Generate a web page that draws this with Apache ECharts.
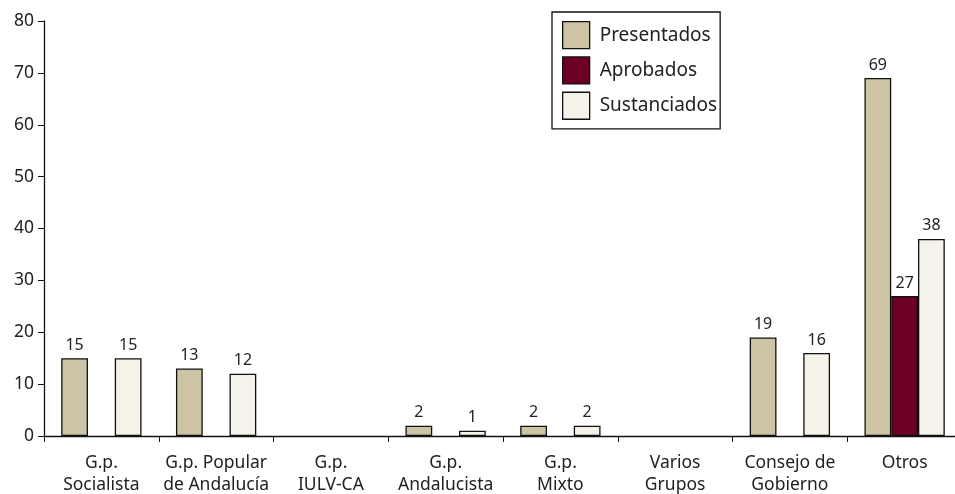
<!DOCTYPE html>
<html><head><meta charset="utf-8">
<script src="https://cdn.jsdelivr.net/npm/echarts@6/dist/echarts.min.js"></script>
<style>html,body{margin:0;padding:0;background:#fff}#c{width:955px;height:494px}</style>
</head><body><div id="c"></div>
<script>
const categories = ['G.p.\nSocialista','G.p. Popular\nde Andalucía','G.p.\nIULV-CA','G.p.\nAndalucista','G.p.\nMixto','Varios\nGrupos','Consejo de\nGobierno','Otros'];
const presentados = [15, 13, 0, 2, 2, 0, 19, 69];
const aprobados = [0, 0, 0, 0, 0, 0, 0, 27];
const sustanciados = [15, 12, 0, 1, 2, 0, 16, 38];
const yTicks = [0, 10, 20, 30, 40, 50, 60, 70, 80];

const FONT = 'Noto Sans';
const toData = a => a.map(v => v === 0 ? '-' : v);
const mk = (name, data, color) => ({
  name, type: 'bar', data: toData(data), barGap: '0%', barCategoryGap: '30%',
  itemStyle: { color, borderColor: '#111', borderWidth: 1.3 },
  label: { show: true, position: 'top', distance: 5, color: '#222', fontFamily: FONT, fontSize: 16 }
});
const chart = echarts.init(document.getElementById('c'));
chart.setOption({
  animation: false,
  textStyle: { fontFamily: FONT },
  grid: { left: 44, right: -7, top: 21, bottom: 58, containLabel: false, outerBoundsMode: 'none' },
  legend: {
    orient: 'vertical', left: 552, top: 12,
    padding: [9, 3, 9, 10], itemGap: 7, itemWidth: 27, itemHeight: 27,
    borderColor: '#111', borderWidth: 1.3,
    icon: 'rect',
    itemStyle: { borderColor: '#111', borderWidth: 1.3 },
    textStyle: { fontFamily: FONT, fontSize: 19, color: '#222', padding: [0, 0, 0, 5] },
    data: ['Presentados', 'Aprobados', 'Sustanciados']
  },
  xAxis: {
    type: 'category', data: categories,
    axisLine: { lineStyle: { color: '#111', width: 1.3 } },
    axisTick: { show: true, length: 6, lineStyle: { color: '#111' } },
    axisLabel: { color: '#222', fontFamily: FONT, fontSize: 17.5, lineHeight: 22, margin: 16, interval: 0 }
  },
  yAxis: {
    type: 'value', min: yTicks[0], max: yTicks[yTicks.length - 1], interval: 10,
    splitLine: { show: false },
    axisLine: { show: true, lineStyle: { color: '#111', width: 1.3 } },
    axisTick: { show: true, length: 6, lineStyle: { color: '#111' } },
    axisLabel: { color: '#222', fontFamily: FONT, fontSize: 17.5, margin: 10 }
  },
  series: [
    mk('Presentados', presentados, '#cdc4a6'),
    mk('Aprobados', aprobados, '#6b0022'),
    mk('Sustanciados', sustanciados, '#f5f2ea')
  ]
});
</script></body></html>
